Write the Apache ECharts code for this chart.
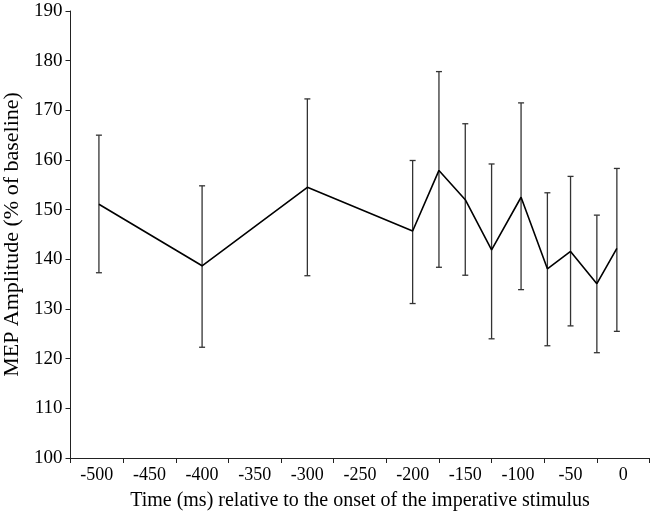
<!DOCTYPE html>
<html>
<head>
<meta charset="utf-8">
<script src="https://cdn.jsdelivr.net/npm/echarts@6/dist/echarts.min.js"></script>
<style>html,body{margin:0;padding:0;background:#fff}#c{width:656px;height:520px}</style>
</head>
<body>
<div id="c"></div>
<script>
const tickLabels = ['-500','-450','-400','-350','-300','-250','-200','-150','-100','-50','0'];
const timeValues = [-498, -400, -300, -200, -175, -150, -125, -97, -72, -50, -25, -6];
const meanValues = [151.1, 138.7, 154.5, 145.7, 157.9, 152.0, 141.9, 152.5, 138.1, 141.6, 135.1, 142.2];
const upperValues = [165.0, 154.8, 172.3, 159.9, 177.8, 167.3, 159.2, 171.5, 153.4, 156.7, 148.9, 158.3];
const lowerValues = [137.3, 122.3, 136.7, 131.1, 138.4, 136.8, 124.0, 133.9, 122.6, 126.6, 121.2, 125.5];

const font = 'Liberation Serif';
const chart = echarts.init(document.getElementById('c'));
const lineData = timeValues.map((t, i) => [t, meanValues[i]]);
const errData = timeValues.map((t, i) => [t, lowerValues[i], upperValues[i]]);

chart.setOption({
  animation: false,
  backgroundColor: '#fff',
  grid: { left: 70.5, right: 6.5, top: 11, bottom: 62, containLabel: false, outerBoundsMode: 'none' },
  xAxis: [
    {
      type: 'category',
      data: tickLabels,
      boundaryGap: true,
      axisLine: { show: true, onZero: false, lineStyle: { color: '#222', width: 1 } },
      axisTick: { show: true, alignWithLabel: false, interval: 0, length: 5, lineStyle: { color: '#222' } },
      axisLabel: { interval: 0, color: '#000', fontFamily: font, fontSize: 18, margin: 8 },
      splitLine: { show: false },
      name: 'Time (ms) relative to the onset of the imperative stimulus',
      nameLocation: 'middle',
      nameGap: 33,
      nameTextStyle: { color: '#000', fontFamily: font, fontSize: 20 }
    },
    {
      type: 'value',
      min: -525,
      max: 25,
      show: false,
      splitLine: { show: false }
    }
  ],
  yAxis: {
    type: 'value',
    min: 100,
    max: 190,
    interval: 10,
    axisLine: { show: true, onZero: false, lineStyle: { color: '#222', width: 1 } },
    axisTick: { show: true, length: 5, lineStyle: { color: '#222' } },
    axisLabel: { color: '#000', fontFamily: font, fontSize: 19, margin: 8 },
    splitLine: { show: false },
    name: 'MEP Amplitude (% of baseline)',
    nameLocation: 'middle',
    nameGap: 39,
    nameTextStyle: { color: '#000', fontFamily: font, fontSize: 22 }
  },
  series: [
    {
      type: 'custom',
      xAxisIndex: 1,
      yAxisIndex: 0,
      data: errData,
      encode: { x: 0, y: [1, 2] },
      z: 2,
      renderItem: function (params, api) {
        const x = api.value(0);
        const lo = api.coord([x, api.value(1)]);
        const hi = api.coord([x, api.value(2)]);
        const w = 3;
        const style = { stroke: '#333', lineWidth: 1.3 };
        return {
          type: 'group',
          children: [
            { type: 'line', shape: { x1: hi[0], y1: hi[1], x2: lo[0], y2: lo[1] }, style: style },
            { type: 'line', shape: { x1: hi[0] - w, y1: hi[1], x2: hi[0] + w, y2: hi[1] }, style: style },
            { type: 'line', shape: { x1: lo[0] - w, y1: lo[1], x2: lo[0] + w, y2: lo[1] }, style: style }
          ]
        };
      }
    },
    {
      type: 'line',
      xAxisIndex: 1,
      yAxisIndex: 0,
      data: lineData,
      showSymbol: false,
      symbol: 'none',
      z: 3,
      lineStyle: { color: '#000', width: 1.6 }
    }
  ]
});
</script>
</body>
</html>
